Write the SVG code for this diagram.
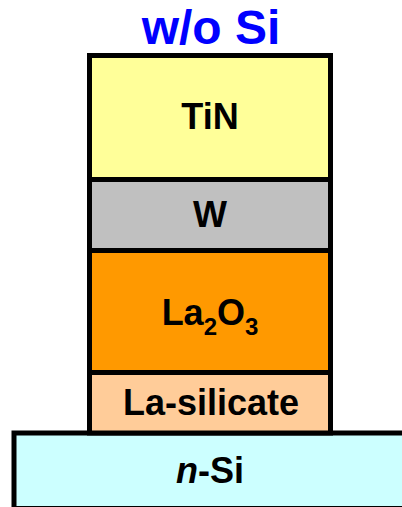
<svg xmlns="http://www.w3.org/2000/svg" width="402" height="507" viewBox="0 0 402 507">
  <style>
    .layer { stroke: #000; stroke-width: 5; }
    .lbl { font-family: "Liberation Sans", Arial, sans-serif; font-weight: bold; font-size: 36px; fill: #000; text-anchor: middle; }
    .title { font-family: "Liberation Sans", Arial, sans-serif; font-weight: bold; font-size: 48px; fill: #0000FF; text-anchor: middle; }
  </style>
  <rect width="402" height="507" fill="#FFFFFF"/>

  <text class="title" x="211" y="44">w/o Si</text>

  <g id="substrate">
    <rect class="layer" x="14" y="433" width="400" height="75.5" fill="#CCFFFF"/>
    <text class="lbl" x="210" y="483" font-size="35"><tspan font-style="italic">n</tspan>-Si</text>
  </g>

  <g id="la-silicate">
    <rect class="layer" x="89.5" y="372.5" width="241" height="60.5" fill="#FFCC99"/>
    <text class="lbl" x="211" y="415">La-silicate</text>
  </g>

  <g id="la2o3">
    <rect class="layer" x="89.5" y="250.5" width="241" height="122" fill="#FF9900"/>
    <text class="lbl" x="210" y="325" font-size="35">La<tspan font-size="24" dy="10">2</tspan><tspan dy="-10">O</tspan><tspan font-size="24" dy="10">3</tspan></text>
  </g>

  <g id="w">
    <rect class="layer" x="89.5" y="179.5" width="241" height="71" fill="#C0C0C0"/>
    <text class="lbl" x="210" y="226.5">W</text>
  </g>

  <g id="tin">
    <rect class="layer" x="89.5" y="55.5" width="241" height="124" fill="#FFFF99"/>
    <text class="lbl" x="210" y="129">TiN</text>
  </g>

  <g id="connectors"/>
</svg>
